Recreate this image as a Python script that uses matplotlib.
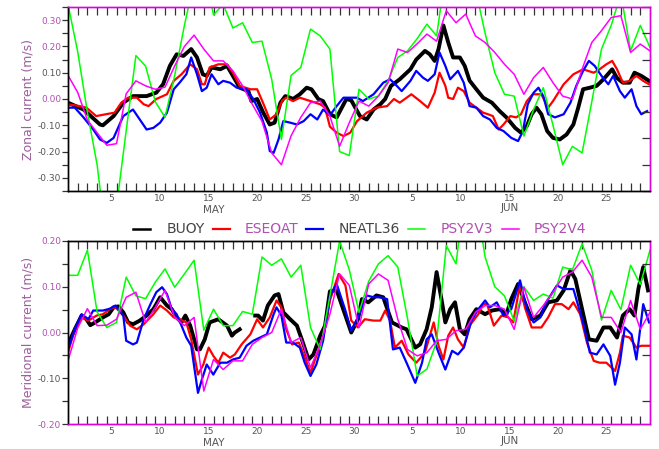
import numpy as np
import matplotlib
matplotlib.use("Agg")
import matplotlib.pyplot as plt
from matplotlib.lines import Line2D
import matplotlib.transforms as mtrans

# ---------------- data (days since 1 May 00:00) ----------------
series_names = ["BUOY", "ESEOAT", "NEATL36", "PSY2V3", "PSY2V4"]
series_colors = ["#000000", "#ff0000", "#0000ff", "#00ff00", "#ff00ff"]

# Zonal current
zon_buoy_t = [0, 1.6, 3.3, 3.6, 4.7, 5.7, 6.7, 8.1, 9.1, 9.8, 10.5, 11.2, 11.9, 12.7, 13.3, 13.9, 14.3, 14.8, 15.7, 16.4,
              17.0, 17.7, 18.6, 18.9, 19.5, 20.1, 20.8, 21.3, 21.9, 22.4, 22.9, 23.2, 23.9, 24.6, 25.1, 25.8, 26.3, 27.0,
              27.7, 28.7, 29.2, 30.1, 30.8, 31.5, 32.2, 32.7, 33.3, 34.2, 35.3, 35.9, 36.8, 37.3, 37.8, 38.2, 38.7, 39.2,
              39.7, 40.4, 40.9, 41.4, 42.1, 42.8, 43.7, 44.5, 45.2, 46.1, 46.7, 47.3, 47.8, 48.3, 48.8, 49.4, 50.0, 50.7,
              51.4, 52.1, 52.6, 53.1, 53.8, 54.5, 55.2, 56.1, 56.6, 57.2, 57.9, 58.4, 59.1, 59.9]
zon_buoy_v = [-0.014, -0.04, -0.097, -0.10, -0.065, -0.014, 0.011, 0.011, 0.024, 0.056, 0.126, 0.17, 0.164, 0.19, 0.158,
              0.094, 0.088, 0.12, 0.113, 0.126, 0.088, 0.043, 0.03, -0.008, 0.0, -0.05, -0.097, -0.09, -0.014, 0.011,
              0.005, 0.0, 0.018, 0.043, 0.037, 0.0, -0.008, -0.058, -0.07, 0.0, -0.005, -0.065, -0.078, -0.04, -0.02,
              0.0, 0.05, 0.075, 0.113, 0.15, 0.183, 0.17, 0.145, 0.19, 0.28, 0.215, 0.158, 0.158, 0.126, 0.07, 0.037,
              0.005, -0.014, -0.046, -0.07, -0.11, -0.128, -0.103, -0.058, -0.033, -0.058, -0.122, -0.148, -0.154,
              -0.135, -0.097, -0.033, 0.037, 0.043, 0.05, 0.075, 0.113, 0.08, 0.062, 0.062, 0.1, 0.088, 0.069]

zon_eseoat_t = [0, 1.2, 1.9, 2.9, 3.9, 4.8, 5.5, 6.2, 7.1, 7.8, 8.3, 9.1, 10.2, 10.9, 11.7, 12.6, 13.3, 13.8, 14.1, 14.6,
                15.5, 16.4, 17.0, 17.7, 18.8, 19.5, 20.1, 20.8, 21.5, 22.1, 22.5, 23.2, 23.9, 25.0, 26.0, 26.5, 27.0,
                27.7, 28.4, 29.1, 29.8, 30.8, 31.8, 32.9, 33.6, 34.2, 35.4, 36.3, 37.1, 37.8, 38.3, 38.9, 39.2, 39.7,
                40.2, 40.8, 41.4, 42.1, 42.8, 43.3, 43.8, 44.4, 44.9, 45.6, 46.2, 46.7, 47.3, 47.9, 48.8, 49.5, 50.0,
                51.1, 52.1, 53.1, 54.2, 54.8, 55.5, 56.1, 56.6, 57.2, 57.9, 58.6, 59.3, 59.9]
zon_eseoat_v = [-0.02, -0.027, -0.033, -0.065, -0.058, -0.052, -0.014, 0.005, 0.005, -0.02, -0.027, 0.0, 0.018, 0.069,
                0.094, 0.132, 0.113, 0.056, 0.056, 0.12, 0.132, 0.132, 0.1, 0.05, 0.037, 0.037, -0.014, -0.078, -0.058,
                -0.005, 0.005, -0.008, 0.005, -0.008, -0.02, -0.033, -0.105, -0.128, -0.141, -0.128, -0.084, -0.052,
                -0.033, -0.027, 0.0, -0.014, 0.018, -0.008, -0.033, 0.024, 0.1, 0.05, 0.005, 0.0, 0.043, 0.03, -0.014,
                -0.033, -0.052, -0.058, -0.065, -0.116, -0.097, -0.065, -0.07, -0.058, -0.008, 0.018, 0.018, -0.033,
                -0.008, 0.056, 0.094, 0.113, 0.1, 0.113, 0.132, 0.145, 0.113, 0.062, 0.069, 0.088, 0.069, 0.056]

zon_neatl_t = [0, 0.7, 1.6, 2.6, 3.3, 4.0, 4.7, 5.7, 6.7, 7.4, 8.1, 8.8, 9.5, 10.2, 10.9, 11.5, 12.2, 12.7, 13.3, 13.8,
               14.3, 14.8, 15.5, 16.0, 16.7, 17.4, 18.4, 19.1, 19.8, 20.5, 20.8, 21.2, 21.7, 22.2, 22.9, 23.6, 24.3,
               25.0, 25.7, 26.3, 27.0, 27.7, 28.4, 29.8, 30.4, 31.5, 32.5, 33.2, 33.9, 34.4, 35.3, 35.9, 36.6, 37.1,
               37.8, 38.3, 38.9, 39.4, 40.2, 40.8, 41.4, 42.1, 42.8, 43.5, 44.2, 44.9, 45.7, 46.4, 46.9, 47.4, 48.0,
               48.5, 49.0, 49.5, 50.2, 51.1, 51.8, 52.4, 53.1, 53.7, 54.3, 55.0, 55.7, 56.2, 56.9, 57.4, 58.1, 58.6,
               59.1, 59.7]
zon_neatl_v = [-0.033, -0.033, -0.07, -0.116, -0.154, -0.167, -0.148, -0.065, -0.04, -0.078, -0.116, -0.11, -0.09,
               -0.052, 0.037, 0.062, 0.094, 0.158, 0.094, 0.03, 0.043, 0.094, 0.056, 0.069, 0.062, 0.043, 0.037, 0.0,
               -0.052, -0.128, -0.198, -0.205, -0.154, -0.084, -0.09, -0.097, -0.084, -0.058, -0.078, -0.04, -0.062,
               -0.027, 0.005, 0.005, -0.008, 0.018, 0.062, 0.075, 0.05, 0.03, 0.069, 0.107, 0.081, 0.069, 0.094, 0.177,
               0.126, 0.075, 0.107, 0.062, -0.027, -0.033, -0.065, -0.078, -0.11, -0.122, -0.148, -0.16, -0.122, -0.02,
               0.024, 0.043, 0.011, -0.058, -0.07, -0.058, -0.014, 0.05, 0.107, 0.145, 0.126, 0.088, 0.056, 0.088,
               0.03, 0.005, 0.037, -0.027, -0.058, -0.046]

daily_t = list(range(61))
zon_psy2v3 = [0.36, 0.18, -0.05, -0.25, -0.55, -0.41, -0.12, 0.165, 0.125, -0.01, -0.07, 0.09, 0.28, 0.45, 0.5, 0.32,
              0.36, 0.27, 0.29, 0.215, 0.22, 0.075, -0.154, 0.09, 0.12, 0.266, 0.24, 0.19, -0.2, -0.215, 0.037, 0.0,
              0.011, 0.069, 0.158, 0.183, 0.23, 0.285, 0.24, 0.5, 0.55, 0.5, 0.42, 0.25, 0.1, 0.018, 0.011, -0.141,
              -0.04, 0.043, -0.1, -0.25, -0.18, -0.205, -0.01, 0.19, 0.28, 0.4, 0.183, 0.28, 0.196]
zon_psy2v4 = [0.09, 0.025, -0.08, -0.128, -0.176, -0.17, 0.02, 0.069, 0.05, 0.037, 0.045, 0.126, 0.2, 0.243, 0.19,
              0.145, 0.145, 0.107, 0.05, -0.02, -0.085, -0.205, -0.25, -0.14, -0.07, -0.014, -0.008, -0.065, -0.18,
              -0.09, -0.008, -0.027, 0.011, 0.062, 0.19, 0.177, 0.21, 0.247, 0.22, 0.336, 0.29, 0.323, 0.24, 0.215,
              0.177, 0.132, 0.094, 0.018, 0.081, 0.12, 0.062, 0.011, 0.0, 0.113, 0.215, 0.26, 0.31, 0.317, 0.177,
              0.209, 0.183]

# Meridional current
mer_buoy_t = [0, 0.7, 1.4, 1.9, 2.3, 2.8, 3.6, 4.2, 4.7, 5.2, 5.7, 6.2, 6.7, 7.4, 8.1, 8.8, 9.5, 10.2, 10.7, 11.2, 11.7,
              12.1, 12.6, 13.3, 13.6, 14.1, 14.6, 15.5, 16.4, 16.9, 17.2, 17.7, 18.5, 19.3, 19.6, 20.1, 20.6, 21.3,
              21.7, 22.2, 22.9, 23.6, 24.1, 24.8, 25.3, 26.0, 26.5, 27.0, 27.7, 28.6, 29.2, 29.9, 30.3, 30.96, 31.8,
              32.5, 33.4, 34.4, 34.9, 35.8, 36.3, 36.97, 37.5, 38.0, 38.5, 38.9, 39.4, 39.9, 40.4, 40.9, 41.4, 42.1,
              43.0, 43.7, 44.5, 45.2, 45.7, 46.4, 47.1, 47.8, 48.7, 49.5, 50.4, 51.1, 51.8, 52.3, 53.0, 53.7, 54.5,
              55.2, 55.9, 56.6, 57.2, 57.9, 58.4, 58.8, 59.3, 59.8]
mer_buoy_v = [-0.026, 0.007, 0.037, 0.029, 0.016, 0.022, 0.033, 0.04, 0.055, 0.057, 0.044, 0.022, 0.018, 0.026, 0.037,
              0.051, 0.077, 0.059, 0.051, 0.033, 0.022, 0.037, 0.015, -0.037, -0.037, -0.015, 0.022, 0.029, 0.015,
              -0.007, 0.0, 0.007, np.nan, 0.037, 0.037, 0.026, 0.059, 0.081, 0.084, 0.044, 0.029, 0.015, -0.015,
              -0.059, -0.048, -0.007, 0.015, 0.09, 0.092, 0.037, 0.0, 0.029, 0.073, 0.066, 0.081, 0.077, 0.022, 0.011,
              0.007, -0.033, -0.026, 0.007, 0.055, 0.132, 0.073, 0.022, 0.051, 0.066, 0.007, -0.004, 0.029, 0.051,
              0.04, 0.048, 0.051, 0.04, 0.073, 0.106, 0.066, 0.029, 0.037, 0.066, 0.07, 0.092, 0.136, 0.117, 0.051,
              -0.015, -0.018, 0.011, 0.011, -0.011, 0.037, 0.051, 0.037, 0.095, 0.143, 0.092]

mer_eseoat_t = [0, 0.7, 1.4, 2.1, 2.95, 3.6, 4.3, 4.9, 5.7, 6.4, 7.1, 7.8, 8.8, 9.5, 10.2, 10.9, 11.5, 12.2, 12.7, 13.1,
                13.4, 13.95, 14.5, 14.98, 15.5, 16.0, 16.7, 17.2, 17.9, 18.8, 19.5, 20.1, 20.8, 21.5, 22.0, 22.5, 23.1,
                23.8, 24.3, 25.0, 25.6, 26.3, 27.0, 27.9, 28.6, 29.2, 29.9, 30.6, 31.5, 32.2, 32.7, 33.2, 33.7, 34.4,
                35.1, 35.9, 36.8, 37.7, 38.2, 38.7, 39.2, 39.7, 40.2, 40.8, 41.4, 42.3, 42.8, 43.2, 43.9, 44.7, 45.4,
                45.9, 46.6, 47.1, 47.8, 48.8, 49.5, 50.2, 50.9, 51.6, 52.1, 52.8, 53.5, 54.2, 54.8, 55.5, 56.4, 56.9,
                57.2, 57.9, 58.6, 59.1, 59.9]
mer_eseoat_v = [-0.044, 0.007, 0.033, 0.026, 0.037, 0.04, 0.051, 0.055, 0.037, 0.015, 0.007, 0.018, 0.04, 0.059, 0.048,
                0.033, 0.029, 0.022, -0.015, -0.059, -0.092, -0.07, -0.033, -0.051, -0.066, -0.044, -0.055, -0.048,
                -0.026, -0.004, 0.029, 0.011, 0.033, 0.07, 0.055, 0.007, -0.026, -0.022, -0.048, -0.088, -0.051,
                -0.011, 0.07, 0.128, 0.103, 0.026, 0.011, 0.029, 0.026, 0.026, 0.048, 0.026, -0.033, -0.018, -0.048,
                -0.066, -0.044, 0.022, -0.029, -0.059, -0.007, 0.011, -0.015, -0.033, 0.015, 0.04, 0.062, 0.062, 0.015,
                0.037, 0.033, 0.022, 0.106, 0.055, 0.011, 0.011, 0.033, 0.062, 0.062, 0.051, 0.066, 0.04, -0.022,
                -0.062, -0.066, -0.066, -0.084, -0.044, -0.007, -0.011, -0.033, -0.029, -0.029]

mer_neatl_t = [0, 0.7, 1.4, 2.1, 2.6, 3.6, 4.3, 4.9, 5.7, 6.0, 6.7, 7.1, 7.8, 8.5, 9.1, 9.7, 10.2, 10.7, 11.2, 11.7, 12.2,
               12.7, 13.1, 13.4, 13.8, 14.3, 14.98, 15.7, 16.4, 17.0, 17.7, 18.4, 19.1, 19.8, 20.5, 21.2, 21.5, 22.0,
               22.5, 23.2, 23.9, 24.4, 25.0, 25.6, 26.3, 27.0, 27.7, 28.6, 29.2, 29.9, 30.8, 31.5, 32.2, 32.9, 33.5,
               34.2, 34.9, 35.8, 36.5, 36.97, 37.5, 38.2, 38.9, 39.6, 40.2, 40.8, 41.6, 42.3, 43.0, 43.5, 44.2, 44.9,
               45.7, 46.6, 47.3, 48.0, 48.7, 49.3, 50.4, 51.1, 52.1, 53.1, 53.8, 54.5, 55.2, 55.9, 56.4, 56.9, 57.4,
               58.1, 58.6, 59.3, 59.9]
mer_neatl_v = [-0.037, 0.007, 0.04, 0.029, 0.048, 0.048, 0.052, 0.059, 0.037, -0.018, -0.026, -0.022, 0.029, 0.062,
               0.088, 0.099, 0.084, 0.051, 0.04, 0.015, -0.011, -0.029, -0.088, -0.132, -0.103, -0.07, -0.092, -0.066,
               -0.066, -0.059, -0.055, -0.029, -0.018, -0.011, -0.004, 0.04, 0.055, 0.037, -0.022, -0.022, -0.033,
               -0.066, -0.095, -0.07, -0.018, 0.08, 0.106, 0.048, 0.004, 0.033, 0.081, 0.077, 0.077, 0.073, -0.037,
               -0.033, -0.066, -0.11, -0.066, -0.015, -0.004, -0.044, -0.081, -0.04, -0.048, -0.033, 0.026, 0.051,
               0.07, 0.055, 0.066, 0.037, 0.051, 0.114, 0.051, 0.022, 0.033, 0.066, 0.103, 0.095, 0.095, 0.022,
               -0.044, -0.048, -0.026, -0.051, -0.114, -0.066, 0.011, -0.004, -0.059, 0.062, 0.022]

mer_psy2v3 = [0.125, 0.125, 0.18, 0.045, 0.011, 0.022, 0.121, 0.08, 0.074, 0.11, 0.139, 0.099, 0.128, 0.158, 0.005,
              0.051, 0.015, 0.015, 0.046, 0.04, 0.165, 0.147, 0.161, 0.121, 0.147, 0.011, -0.037, 0.08, 0.2, 0.137,
              0.044, 0.112, 0.15, 0.168, 0.143, 0.031, -0.095, -0.08, -0.02, 0.19, 0.15, 0.32, 0.3, 0.165, 0.1, 0.08,
              0.025, 0.1, 0.07, 0.084, 0.075, 0.143, 0.137, 0.194, 0.136, 0.027, 0.092, 0.05, 0.147, 0.105, 0.18]
mer_psy2v4 = [-0.062, 0.01, 0.052, 0.015, 0.016, 0.029, 0.077, 0.088, 0.022, 0.055, 0.092, 0.033, 0.015, 0.033, -0.128,
              -0.059, -0.081, -0.062, -0.062, -0.026, -0.011, 0.0, 0.051, -0.022, -0.011, -0.077, -0.026, 0.04, 0.128,
              0.103, 0.011, 0.106, 0.128, 0.114, 0.029, -0.037, -0.051, -0.044, -0.018, -0.015, 0.004, 0.007, 0.044,
              0.059, 0.059, 0.051, 0.007, 0.099, 0.033, 0.059, 0.088, 0.121, 0.132, 0.158, 0.121, 0.033, 0.033, 0.0,
              0.07, 0.007, 0.044]

may_days = [5, 10, 15, 20, 25, 30]
jun_days = [5, 10, 15, 20, 25]
month_names = ["MAY", "JUN"]
ylabels = ["Zonal current (m/s)", "Meridional current (m/s)"]

# ---------------- figure ----------------
W, H = 659, 449
fig = plt.figure(figsize=(W / 100, H / 100), dpi=100)
fig.patch.set_facecolor("white")

def fx(px):
    return px / W

def fy(py):
    return 1 - py / H

ax1 = fig.add_axes([fx(68), fy(191), fx(650) - fx(68), fy(7) - fy(191)])
ax2 = fig.add_axes([fx(68), fy(424), fx(650) - fx(68), fy(241) - fy(424)])

LW = [2.8, 1.6, 1.6, 1.1, 1.1]
TXT_GRAY = "#555555"
TXT_PURP = "#b050b0"
MAG = "#e000e0"

def draw_panel(ax, data, ylim, ystep, ylab, lab_colors, spine_colors):
    for (t, v), c, lw in zip(data, series_colors, LW):
        ax.plot(t, v, color=c, lw=lw, solid_joinstyle="round")
    ax.set_xlim(0, 60)
    ax.set_ylim(-ylim, ylim)
    # x: minor ticks at day boundaries, labels at mid-day
    ax.set_xticks(np.arange(1, 60), minor=True)
    lab_pos = [d - 0.5 for d in may_days] + [31 + d - 0.5 for d in jun_days]
    lab_txt = [str(d) for d in may_days] + [str(d) for d in jun_days]
    ax.set_xticks(lab_pos)
    ax.set_xticklabels(lab_txt)
    ax.tick_params(axis="x", which="major", length=0, pad=2, labelsize=6.5, labelcolor=TXT_GRAY)
    ax.tick_params(axis="x", which="minor", direction="in", length=6, width=0.9, color="#333333",
                   top=True, bottom=True)
    # y
    yt = np.round(np.arange(-ylim + 0.05 if ylim == 0.35 else -ylim, ylim + 1e-9, ystep), 2)
    ax.set_yticks(yt)
    ax.set_yticklabels(["%.2f" % v for v in yt])
    for lbl, c in zip(ax.get_yticklabels(), lab_colors):
        lbl.set_color(c)
    ax.set_yticks(np.round(np.arange(-ylim, ylim + 1e-9, ystep / 2), 3), minor=True)
    ax.tick_params(axis="y", which="both", direction="out", length=4, width=0.9, color="#333333",
                   left=True, right=False, labelsize=6.5, pad=1)
    axr = ax.twinx()
    axr.set_ylim(ax.get_ylim())
    axr.set_yticks(ax.get_yticks(minor=True))
    axr.tick_params(axis="y", direction="in", length=6, width=0.9, color="#333333", labelright=False)
    for a in (ax, axr):
        for side, c in spine_colors.items():
            a.spines[side].set_color(c)
            a.spines[side].set_linewidth(1.0)
    ax.set_ylabel(ylab, fontsize=9, color="#9b5f9b", labelpad=2)
    tr = mtrans.blended_transform_factory(ax.transData, ax.transAxes)
    ax.text(15.0, -0.105, month_names[0], transform=tr, ha="center", va="center", fontsize=7.5, color=TXT_GRAY)
    ax.text(45.5, -0.095, month_names[1], transform=tr, ha="center", va="center", fontsize=7.5, color=TXT_GRAY)

top_data = [(zon_buoy_t, zon_buoy_v), (zon_eseoat_t, zon_eseoat_v), (zon_neatl_t, zon_neatl_v),
            (daily_t, zon_psy2v3), (daily_t, zon_psy2v4)]
bot_data = [(mer_buoy_t, mer_buoy_v), (mer_eseoat_t, mer_eseoat_v), (mer_neatl_t, mer_neatl_v),
            (daily_t, mer_psy2v3), (daily_t, mer_psy2v4)]

draw_panel(ax1, top_data, 0.35, 0.1, ylabels[0],
           [TXT_GRAY, TXT_GRAY, TXT_GRAY, TXT_PURP, TXT_GRAY, TXT_PURP, TXT_PURP],
           {"top": MAG, "right": MAG, "left": "#000000", "bottom": "#000000"})
draw_panel(ax2, bot_data, 0.20, 0.1, ylabels[1],
           [TXT_PURP, TXT_GRAY, TXT_PURP, TXT_PURP, TXT_PURP],
           {"top": "#000000", "right": MAG, "left": "#000000", "bottom": MAG})

# ---------------- legend between panels ----------------
leg_line_x = [133, 213, 306, 408, 502]
leg_text_x = [167, 245, 339, 441, 534]
leg_text_col = ["#444444", TXT_PURP, "#444444", TXT_PURP, TXT_PURP]
ly = 229
for name, c, lx, tx, tc, lw in zip(series_names, series_colors, leg_line_x, leg_text_x, leg_text_col, LW):
    fig.add_artist(Line2D([fx(lx), fx(lx + 17)], [fy(ly), fy(ly)], color=c, lw=min(lw, 1.8),
                          transform=fig.transFigure))
    fig.text(fx(tx), fy(ly), name, ha="left", va="center", fontsize=10, color=tc)

fig.savefig("out.png", dpi=100, facecolor="white")
